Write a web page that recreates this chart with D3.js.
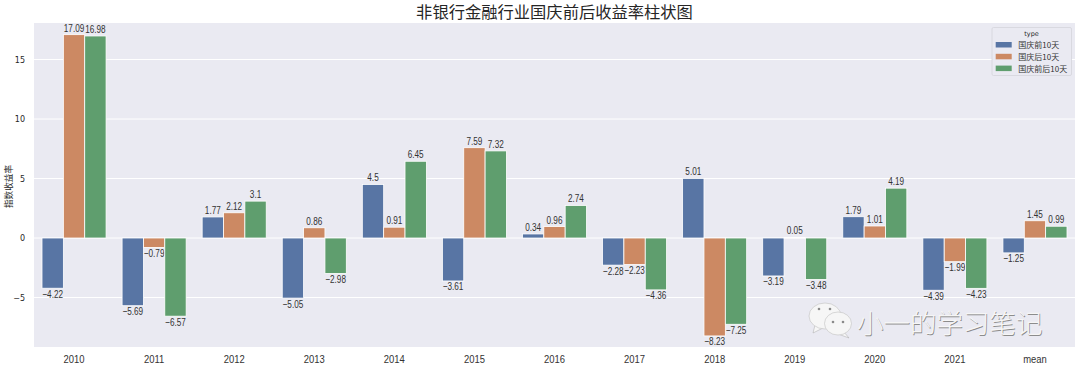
<!DOCTYPE html>
<html lang="en">
<head>
<meta charset="UTF-8">
<title>非银行金融行业国庆前后收益率柱状图</title>
<style>
    html, body { margin: 0; padding: 0; background: #fff; }
    svg { display: block; }
    text { font-family: "Noto Sans CJK SC", "DejaVu Sans", sans-serif; }
</style>
</head>
<body>
<script src="https://d3js.org/d3.v7.min.js"></script>
<script>
const categories = ["2010", "2011", "2012", "2013", "2014", "2015", "2016", "2017", "2018", "2019", "2020", "2021", "mean"];
const seriesNames = ["国庆前10天", "国庆后10天", "国庆前后10天"];
const before = [-4.22, -5.69, 1.77, -5.05, 4.5, -3.61, 0.34, -2.28, 5.01, -3.19, 1.79, -4.39, -1.25];
const after = [17.09, -0.79, 2.12, 0.86, 0.91, 7.59, 0.96, -2.23, -8.23, 0.05, 1.01, -1.99, 1.45];
const both = [16.98, -6.57, 3.1, -2.98, 6.45, 7.32, 2.74, -4.36, -7.25, -3.48, 4.19, -4.23, 0.99];
const yTicks = [-5, 0, 5, 10, 15];
const colors = ["#5875a4", "#cc8963", "#5f9e6e"];

const w = 1080;
const h = 370;
const plotLeft = 34, plotRight = 1075, plotTop = 23, plotBottom = 347;
const digitFont = "'Liberation Sans', sans-serif";

const svg = d3.select("body").append("svg")
    .attr("width", w)
    .attr("height", h)
    .attr("viewBox", [0, 0, w, h]);

const xScale = d3.scaleBand().domain(categories).range([plotLeft, plotRight]).paddingInner(0).paddingOuter(0);
const hueScale = d3.scaleBand().domain(seriesNames).range([0, xScale.bandwidth() * 0.8]);
const yScale = d3.scaleLinear().domain([-9.16, 18.07]).range([plotBottom, plotTop]);

// background
svg.append("rect")
    .attr("x", plotLeft).attr("y", plotTop)
    .attr("width", plotRight - plotLeft).attr("height", plotBottom - plotTop)
    .attr("fill", "#eaeaf2");

// y axis with white grid lines
const yAxis = d3.axisLeft(yScale).tickValues(yTicks).tickSize(0).tickPadding(9)
    .tickFormat(d => d < 0 ? "\u2212" + Math.abs(d) : d);
const yG = svg.append("g")
    .attr("transform", `translate(${plotLeft}, 0)`)
    .call(yAxis);
yG.select(".domain").remove();
yG.selectAll("text").attr("font-size", 8).attr("fill", "#262626")
    .style("font-family", "'DejaVu Sans', sans-serif");
svg.append("g").selectAll("line")
    .data(yTicks)
    .enter()
    .append("line")
    .attr("x1", plotLeft).attr("x2", plotRight)
    .attr("y1", d => yScale(d)).attr("y2", d => yScale(d))
    .attr("stroke", "#fff").attr("stroke-width", 1);

// x axis, digits narrowed to the half width look of the original font
const xAxis = d3.axisBottom(xScale).tickSize(0).tickPadding(8.5);
const xG = svg.append("g")
    .attr("transform", `translate(0, ${plotBottom})`)
    .call(xAxis);
xG.select(".domain").remove();
xG.selectAll("text").attr("font-size", 11).attr("fill", "#333")
    .style("font-family", digitFont)
    .attr("transform", "scale(0.86, 1)");

// bars and value labels
const rows = [before, after, both];
const groupOffset = xScale.bandwidth() * 0.1;
const labelText = v => v < 0 ? "\u2212" + Math.abs(v) : String(v);
rows.forEach((values, s) => {
    const name = seriesNames[s];
    const cells = categories.map((c, i) => ({ c: c, v: values[i] }));
    svg.append("g").selectAll("rect")
        .data(cells)
        .enter()
        .append("rect")
        .attr("x", d => xScale(d.c) + groupOffset + hueScale(name))
        .attr("width", hueScale.bandwidth())
        .attr("y", d => yScale(Math.max(d.v, 0)))
        .attr("height", d => Math.abs(yScale(d.v) - yScale(0)))
        .attr("fill", colors[s])
        .attr("stroke", "#fff")
        .attr("stroke-width", 0.8);
    svg.append("g").selectAll("text")
        .data(cells)
        .enter()
        .append("text")
        .attr("transform", d => {
            const tx = xScale(d.c) + groupOffset + hueScale(name) + hueScale.bandwidth() / 2;
            const ty = d.v >= 0 ? yScale(d.v) - 3 : yScale(d.v) + 9.5;
            return `translate(${tx}, ${ty}) scale(0.78, 1)`;
        })
        .attr("text-anchor", "middle")
        .attr("font-size", 10.5)
        .attr("fill", "#333")
        .style("font-family", digitFont)
        .text(d => labelText(d.v));
});

// title and y label
svg.append("text")
    .attr("x", 554.5).attr("y", 18)
    .attr("text-anchor", "middle")
    .attr("font-size", 16.3).attr("fill", "#262626")
    .text("非银行金融行业国庆前后收益率柱状图");
svg.append("text")
    .attr("transform", `translate(12, ${(plotTop + plotBottom) / 2 + 1.5}) rotate(-90)`)
    .attr("text-anchor", "middle")
    .attr("font-size", 8.6).attr("fill", "#262626")
    .text("指数收益率");

// legend
const legend = svg.append("g").attr("transform", "translate(992, 27.5)");
legend.append("rect")
    .attr("width", 79.5).attr("height", 48).attr("rx", 1.5)
    .attr("fill", "#eaeaf2").attr("stroke", "#d4d4da").attr("stroke-width", 0.8);
legend.append("text")
    .attr("x", 39.5).attr("y", 8.5).attr("text-anchor", "middle")
    .attr("font-size", 6.5).attr("fill", "#262626")
    .style("font-family", "'DejaVu Sans', sans-serif")
    .text("type");
seriesNames.forEach((name, i) => {
    legend.append("rect")
        .attr("x", 3.7).attr("y", 14.5 + i * 11.8)
        .attr("width", 16).attr("height", 5.5)
        .attr("fill", colors[i]);
    legend.append("text")
        .attr("x", 26.3).attr("y", 20.8 + i * 11.8)
        .attr("font-size", 8).attr("fill", "#333")
        .text(name);
});

// watermark
const mark = svg.append("g");
const bubble = (cx, cy, rx, ry, tail) => {
    mark.append("path").attr("d", tail).attr("fill", "#f6f6f6").attr("stroke", "#a8a8a8").attr("stroke-width", 0.5);
    mark.append("ellipse").attr("cx", cx).attr("cy", cy).attr("rx", rx).attr("ry", ry)
        .attr("fill", "#f6f6f6").attr("stroke", "#c0c0c0").attr("stroke-width", 0.6);
};
bubble(825, 316, 16, 13, "M815 325 L813 333 L823 328 Z");
bubble(838, 323.5, 13.5, 11.5, "M844 332 L849 338 L838 334 Z");
[[819, 309], [830, 309], [833, 322], [843, 322]].forEach(p => {
    mark.append("circle").attr("cx", p[0]).attr("cy", p[1]).attr("r", 1.3).attr("fill", "#8a8a8a");
});
mark.append("text")
    .attr("x", 857.7).attr("y", 333.7)
    .attr("font-size", 26.5).attr("font-weight", 300)
    .attr("fill", "#8c8c8c")
    .text("小一的学习笔记");
mark.append("text")
    .attr("x", 857).attr("y", 333)
    .attr("font-size", 26.5).attr("font-weight", 300)
    .attr("fill", "#f6f6f6")
    .text("小一的学习笔记");
</script>
</body>
</html>
